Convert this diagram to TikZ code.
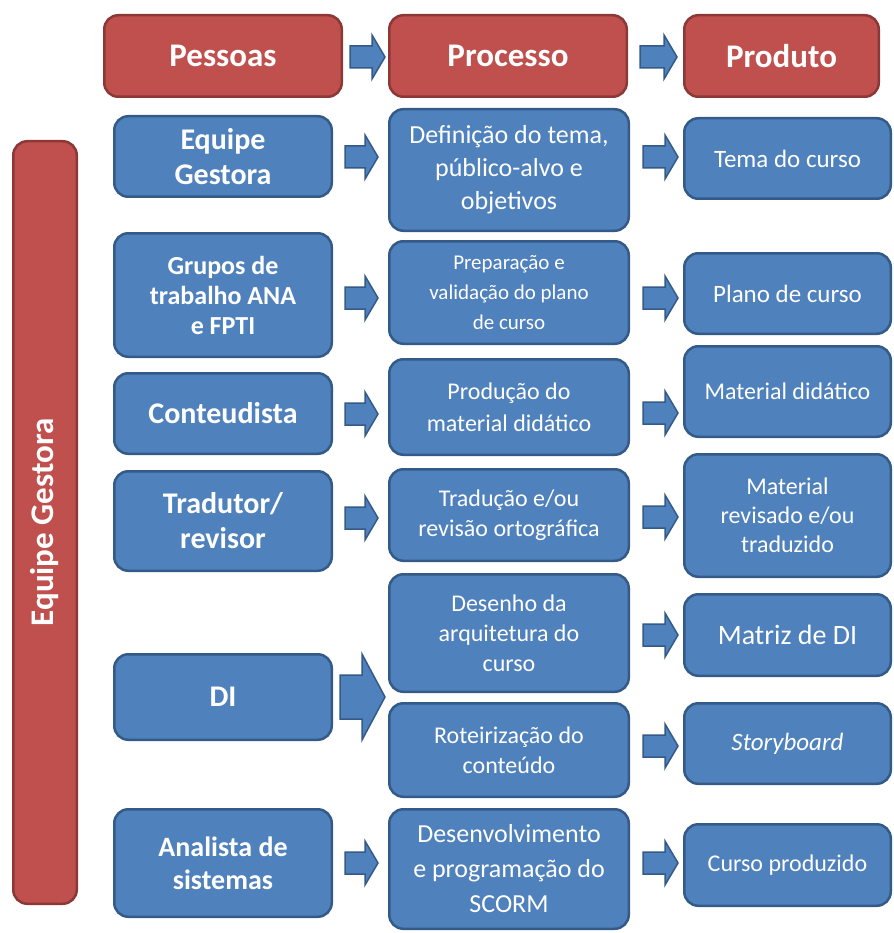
\documentclass[tikz,border=0pt]{standalone}
\usepackage{fontspec}
\setmainfont{Carlito}
\usetikzlibrary{calc}
\definecolor{rfill}{HTML}{C0504D}
\definecolor{rdraw}{HTML}{8C3836}
\definecolor{bfill}{HTML}{4F81BD}
\definecolor{bdraw}{HTML}{345A88}
\tikzset{
  rbox/.style={draw=rdraw, fill=rfill, line width=2.5pt, rounded corners=14pt, text=white, align=center, inner sep=0pt},
  bbox/.style={draw=bdraw, fill=bfill, line width=2.5pt, rounded corners=14pt, text=white, align=center, inner sep=0pt},
  blockarrow/.style={draw=bdraw, fill=bfill, line width=1.5pt, line join=miter},
  hfont/.style={font=\fontsize{33}{36}\selectfont\bfseries},
  pfont/.style={font=\fontsize{30}{35}\selectfont\bfseries},
  qfont/.style={font=\fontsize{25}{31}\selectfont},
}
% box by corners: style, name, x1, y1, x2, y2, text
\newcommand\bx[7]{\node[#1, minimum width={#5pt-#3pt-2.5pt}, minimum height={#6pt-#4pt-2.5pt}] (#2) at ({(#3+#5)/2},{(#4+#6)/2}) {#7};}
% block arrow: from, to, y, gap1, gap2, shaft half, head half, head length
\newcommand\barrow[8]{\path[blockarrow] let \p1=(#1.east), \p2=(#2.west) in
  ({\x1+#4pt},{-#3pt+#6pt}) -- ({\x2-#5pt-#8pt},{-#3pt+#6pt}) -- ({\x2-#5pt-#8pt},{-#3pt+#7pt}) -- ({\x2-#5pt},{-#3pt}) -- ({\x2-#5pt-#8pt},{-#3pt-#7pt}) -- ({\x2-#5pt-#8pt},{-#3pt-#6pt}) -- ({\x1+#4pt},{-#3pt-#6pt}) -- cycle;}
\begin{document}
\begin{tikzpicture}[x=1pt,y=-1pt]
\useasboundingbox[fill=white] (0,0) rectangle (893,933);
% headers
\bx{rbox,hfont}{H1}{103}{14}{343}{98}{Pessoas}
\bx{rbox,hfont}{H2}{388}{14}{628}{98}{Processo}
\bx{rbox,hfont}{H3}{683}{14}{880}{98}{Produto}
% left bar
\bx{rbox}{bar}{12}{140}{78}{905}{}
\node[rotate=90, text=white, font=\fontsize{33}{36}\selectfont\bfseries] (barlabel) at (bar.center) {Equipe Gestora};
% people
\bx{bbox,pfont}{A1}{113}{115}{333}{198}{Equipe\\Gestora}
\bx{bbox,font=\fontsize{26}{30}\selectfont\bfseries}{A2}{113}{232}{333}{358}{Grupos de\\trabalho ANA\\e FPTI}
\bx{bbox,pfont}{A3}{113}{372}{333}{455}{Conteudista}
\bx{bbox,pfont}{A4}{113}{470}{333}{572}{Tradutor/\\revisor}
\bx{bbox,pfont}{A5}{113}{653}{333}{741}{DI}
\bx{bbox,font=\fontsize{28}{33}\selectfont\bfseries}{A6}{113}{808}{333}{918}{Analista de\\sistemas}
% process
\bx{bbox,font=\fontsize{26}{33}\selectfont}{B1}{388}{108}{630}{232}{Definição do tema,\\público-alvo e\\objetivos}
\bx{bbox,font=\fontsize{21}{30}\selectfont}{B2}{388}{240}{630}{345}{Preparação e\\validação do plano\\de curso}
\bx{bbox,font=\fontsize{24}{32}\selectfont}{B3}{388}{358}{630}{456}{Produção do\\material didático}
\bx{bbox,font=\fontsize{24}{30}\selectfont}{B4}{388}{468}{630}{562}{Tradução e/ou\\revisão ortográfica}
\bx{bbox,font=\fontsize{24}{30}\selectfont}{B5a}{388}{573}{630}{693}{Desenho da\\arquitetura do\\curso}
\bx{bbox,font=\fontsize{24}{30}\selectfont}{B5b}{388}{702}{630}{798}{Roteirização do\\conteúdo}
\bx{bbox,font=\fontsize{26}{35}\selectfont}{B6}{388}{808}{630}{930}{Desenvolvimento\\e programação do\\SCORM}
% products
\bx{bbox,qfont}{C1}{683}{117}{892}{200}{Tema do curso}
\bx{bbox,qfont}{C2}{683}{252}{892}{335}{Plano de curso}
\bx{bbox,font=\fontsize{24}{30}\selectfont}{C3}{683}{345}{892}{438}{Material didático}
\bx{bbox,font=\fontsize{24}{29}\selectfont}{C4}{683}{453}{892}{578}{Material\\revisado e/ou\\traduzido}
\bx{bbox,font=\fontsize{28}{32}\selectfont}{C5a}{683}{593}{892}{677}{Matriz de DI}
\bx{bbox,font=\fontsize{25}{30}\selectfont}{C5b}{683}{702}{892}{785}{\textit{Storyboard}}
\bx{bbox,font=\fontsize{24}{30}\selectfont}{C6}{683}{823}{892}{907}{Curso produzido}
% header arrows
\barrow{H1}{H2}{57}{7}{3}{11}{22}{13}
\barrow{H2}{H3}{57}{12}{6}{11}{22}{13}
% people -> process
\barrow{A1}{B1}{157}{12}{10}{11}{22}{13}
\barrow{A2}{B2}{298}{12}{10}{11}{22}{13}
\barrow{A3}{B3}{414}{12}{10}{11}{22}{13}
\barrow{A4}{B4}{518}{12}{10}{11}{22}{13}
\barrow{A5}{B5a}{697}{7}{3}{22}{43}{23}
\barrow{A6}{B6}{863}{12}{10}{11}{22}{13}
% process -> product
\barrow{B1}{C1}{157}{13}{5}{11}{22}{13}
\barrow{B2}{C2}{298}{13}{5}{11}{22}{13}
\barrow{B3}{C3}{413}{13}{5}{11}{22}{13}
\barrow{B4}{C4}{517}{13}{5}{11}{22}{13}
\barrow{B5a}{C5a}{635}{13}{5}{11}{22}{13}
\barrow{B5b}{C5b}{746}{13}{5}{11}{22}{13}
\barrow{B6}{C6}{863}{13}{5}{11}{22}{13}
\end{tikzpicture}
\end{document}
